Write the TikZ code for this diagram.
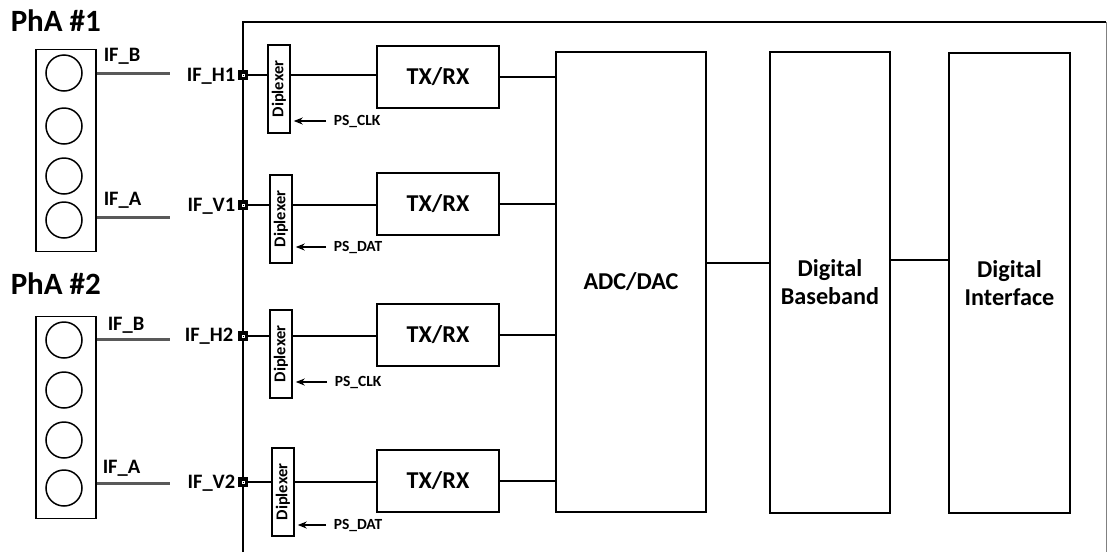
\documentclass[tikz,border=0pt]{standalone}
\usepackage{fontspec}
\setmainfont{Carlito}
\usetikzlibrary{arrows.meta}

\begin{document}
\begin{tikzpicture}[x=1pt,y=-1pt,line width=1.5pt,
  every node/.style={inner sep=0pt,font=\bfseries\fontsize{20.5}{24}\selectfont},
  blk/.style={draw,line width=1.8pt,align=center,font=\bfseries\fontsize{24.2}{28}\selectfont},
  arraybox/.style={draw,minimum width=60,minimum height=202},
  diplex/.style={draw,rotate=90,minimum width=88,minimum height=22,font=\bfseries\fontsize{16.5}{18}\selectfont},
  port/.style={draw,fill=black,minimum size=9,line width=0.8pt},
  portmark/.style={draw=white,line width=0.35pt,minimum size=2.5},
  ifline/.style={line width=3pt,black!65},
  pslabel/.style={anchor=west,font=\bfseries\fontsize{15.5}{17}\selectfont},
  psarrow/.style={-{Stealth[length=9pt,width=7pt]}}]
  \useasboundingbox (0,0) rectangle (1107,552);
  \draw (243,552) -- (243,22) -- (1106,22);
  \draw[thin,gray] (1106,22) -- (1106,552);

  \node[anchor=west,font=\bfseries\fontsize{31}{36}\selectfont] (pha1) at (10,21) {PhA \#1};
  \node[anchor=west,font=\bfseries\fontsize{31}{36}\selectfont] (pha2) at (10,284) {PhA \#2};

  \node[arraybox] (arr1) at (66,150.5) {};
  \draw (64,73) circle (18pt);
  \draw (64,126) circle (18pt);
  \draw (64,176) circle (18pt);
  \draw (64,220) circle (18pt);
  \node[arraybox] (arr2) at (66,417.5) {};
  \draw (64,340) circle (18pt);
  \draw (64,390) circle (18pt);
  \draw (64,440) circle (18pt);
  \draw (64,488) circle (18pt);

  \coordinate (endb1) at (170,73);
  \coordinate (enda1) at (170,217);
  \coordinate (endb2) at (170,339);
  \coordinate (enda2) at (170,483);
  \draw[ifline] (arr1.east |- endb1) -- (endb1);
  \draw[ifline] (arr1.east |- enda1) -- (enda1);
  \draw[ifline] (arr2.east |- endb2) -- (endb2);
  \draw[ifline] (arr2.east |- enda2) -- (enda2);
  \node[anchor=west] (lifb1) at (103,56) {IF\_B};
  \node[anchor=west] (lifa1) at (103,200) {IF\_A};
  \node[anchor=west] (lifb2) at (107,325) {IF\_B};
  \node[anchor=west] (lifa2) at (102,468) {IF\_A};

  \node[anchor=east] (lh1) at (236,76) {IF\_H1};
  \node[anchor=east] (lv1) at (236,206) {IF\_V1};
  \node[anchor=east] (lh2) at (234,336) {IF\_H2};
  \node[anchor=east] (lv2) at (236,483) {IF\_V2};

  \node[diplex] (d1) at (279,89) {Diplexer};
  \node[diplex] (d2) at (281,219) {Diplexer};
  \node[diplex] (d3) at (281,354) {Diplexer};
  \node[diplex] (d4) at (283,492) {Diplexer};

  \node[blk,minimum width=122,minimum height=62] (t1) at (438,77) {TX/RX};
  \node[blk,minimum width=122,minimum height=62] (t2) at (438,204) {TX/RX};
  \node[blk,minimum width=122,minimum height=62] (t3) at (438,335) {TX/RX};
  \node[blk,minimum width=122,minimum height=62] (t4) at (438,481) {TX/RX};

  \node[blk,minimum width=150,minimum height=460] (adc) at (631,282) {ADC/DAC};
  \node[blk,minimum width=120,minimum height=461] (bb) at (830,282.5) {Digital\\Baseband};
  \node[blk,minimum width=121,minimum height=460] (dif) at (1009.5,283) {Digital\\Interface};

  \coordinate (c1) at (243,75);
  \coordinate (c2) at (243,205);
  \coordinate (c3) at (243,336);
  \coordinate (c4) at (243,482);
  \draw (c1) -- (d1.north |- c1);
  \draw (c2) -- (d2.north |- c2);
  \draw (c3) -- (d3.north |- c3);
  \draw (c4) -- (d4.north |- c4);
  \draw (d1.south |- c1) -- (t1.west |- c1);
  \draw (d2.south |- c2) -- (t2.west |- c2);
  \draw (d3.south |- c3) -- (t3.west |- c3);
  \draw (d4.south |- c4) -- (t4.west |- c4);
  \draw (t1.east) -- (t1.east -| adc.west);
  \draw (t2.east) -- (t2.east -| adc.west);
  \draw (t3.east) -- (t3.east -| adc.west);
  \draw (t4.east) -- (t4.east -| adc.west);
  \draw ([yshift=19pt]adc.east) -- ([yshift=19pt]adc.east -| bb.west);
  \draw ([yshift=22.5pt]bb.east) -- ([yshift=22.5pt]bb.east -| dif.west);
  \node[port] (p1) at (c1) {};
  \node[port] (p2) at (c2) {};
  \node[port] (p3) at (c3) {};
  \node[port] (p4) at (c4) {};
  \node[portmark] (m1) at (p1) {};
  \node[portmark] (m2) at (p2) {};
  \node[portmark] (m3) at (p3) {};
  \node[portmark] (m4) at (p4) {};

  \node[pslabel] (ps1) at (333,121) {PS\_CLK};
  \node[pslabel] (ps2) at (333,247) {PS\_DAT};
  \node[pslabel] (ps3) at (334,382) {PS\_CLK};
  \node[pslabel] (ps4) at (333,525) {PS\_DAT};
  \draw[psarrow] ([xshift=-7pt]ps1.west) -- ([xshift=3pt]d1.south |- ps1.west);
  \draw[psarrow] ([xshift=-7pt]ps2.west) -- ([xshift=3pt]d2.south |- ps2.west);
  \draw[psarrow] ([xshift=-7pt]ps3.west) -- ([xshift=3pt]d3.south |- ps3.west);
  \draw[psarrow] ([xshift=-7pt]ps4.west) -- ([xshift=3pt]d4.south |- ps4.west);
\end{tikzpicture}
\end{document}
